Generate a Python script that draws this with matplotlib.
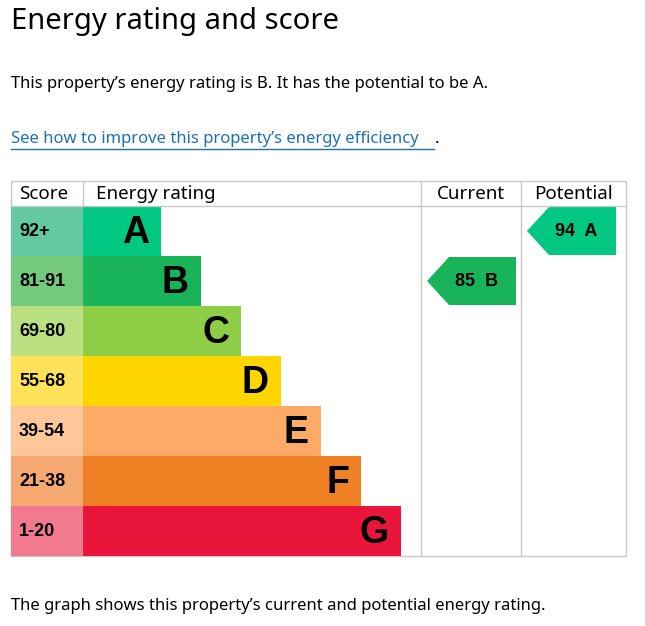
import matplotlib.pyplot as plt
from matplotlib.patches import Rectangle, Polygon

# --- data ---
bands = ["A", "B", "C", "D", "E", "F", "G"]
score_ranges = ["92+", "81-91", "69-80", "55-68", "39-54", "21-38", "1-20"]
bar_colors = ["#00c781", "#19b459", "#8dce46", "#ffd500", "#fcaa65", "#ef8023", "#e9153b"]
score_colors = ["#64c8a2", "#75c97f", "#badf80", "#ffe25a", "#fdc79a", "#f5a86f", "#f27a8f"]
current_score, current_band = 85, "B"
potential_score, potential_band = 94, "A"

W, H = 645, 626
fig = plt.figure(figsize=(W / 100, H / 100), dpi=100)
ax = fig.add_axes([0, 0, 1, 1])
ax.set_xlim(0, W)
ax.set_ylim(H, 0)
ax.axis("off")

body = ["Noto Sans", "DejaVu Sans"]
ax.text(11, 22, "Energy rating and score", fontsize=21, fontweight="bold",
        family=body, va="center")
ax.text(11, 84, "This property\u2019s energy rating is B. It has the potential to be A.",
        fontsize=12, family=body, va="center")
ax.text(11, 139, "See how to improve this property\u2019s energy efficiency",
        fontsize=12, family=body, va="center", color="#1d70b8")
ax.plot([11, 434], [149, 149], color="#1d70b8", lw=1)
ax.text(435, 139, ".", fontsize=12, family=body, va="center")
ax.text(11, 606, "The graph shows this property\u2019s current and potential energy rating.",
        fontsize=12, family=body, va="center")

# table frame
left, right, top, head, row_h = 11, 626, 181, 206, 50
c1, c2 = 421, 521
bottom = head + row_h * len(bands)
grid = "#c8c8c8"
ax.add_patch(Rectangle((left, top), right - left, bottom - top, fill=False, ec=grid, lw=1))
ax.plot([left, right], [head, head], color=grid, lw=1)
for x in (83, c1, c2):
    ax.plot([x, x], [top, head if x == 83 else bottom], color=grid, lw=1)

hdr = dict(fontsize=13.5, fontweight="bold", family=body, va="center")
ax.text(19, 194, "Score", **hdr)
ax.text(96, 194, "Energy rating", **hdr)
ax.text((c1 + c2) / 2, 194, "Current", ha="center", **hdr)
ax.text((c2 + right) / 2, 194, "Potential", ha="center", **hdr)

for i, (b, s) in enumerate(zip(bands, score_ranges)):
    y0 = head + i * row_h
    ax.add_patch(Rectangle((left, y0), 83 - left, row_h, color=score_colors[i], lw=0))
    x_end = 161 + 40 * i
    ax.add_patch(Rectangle((83, y0), x_end - 83, row_h, color=bar_colors[i], lw=0))
    ax.text(19, y0 + row_h / 2, s, fontsize=13, fontweight="bold",
            family="Liberation Sans", va="center")
    ax.text(x_end - 12, y0 + row_h / 2 + 2, b, fontsize=27, fontweight="bold",
            family="Liberation Sans", va="center", ha="right")


def arrow(x0, x1, band, score):
    i = bands.index(band)
    y0 = head + i * row_h + 1
    y1 = y0 + row_h - 2
    ym = (y0 + y1) / 2
    pts = [(x0, ym), (x0 + 22, y0), (x1, y0), (x1, y1), (x0 + 22, y1)]
    ax.add_patch(Polygon(pts, closed=True, color=bar_colors[i], lw=0))
    ax.text(x0 + 28, ym + 1, f"{score}  {band}", fontsize=13, fontweight="bold",
            family="Liberation Sans", va="center")


arrow(427, 516, current_band, current_score)
arrow(527, 616, potential_band, potential_score)

fig.savefig("out.png", dpi=100)
